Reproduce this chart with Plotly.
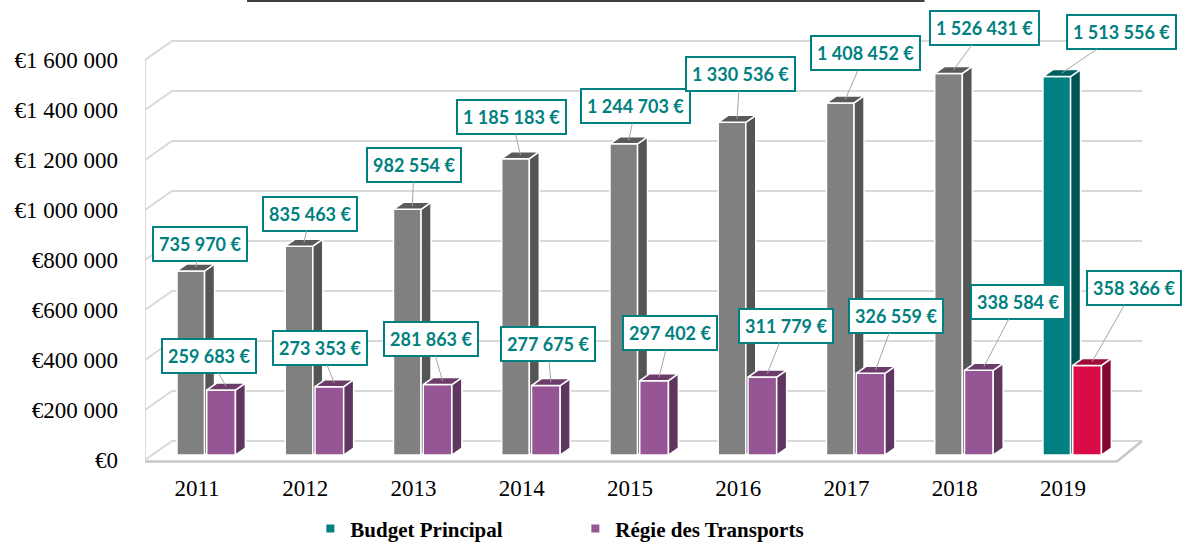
import plotly.graph_objects as go

# ---------------- data ----------------
years = ["2011", "2012", "2013", "2014", "2015", "2016", "2017", "2018", "2019"]
budget_principal = [735970, 835463, 982554, 1185183, 1244703, 1330536, 1408452, 1526431, 1513556]
regie_transports = [259683, 273353, 281863, 277675, 297402, 311779, 326559, 338584, 358366]
y_tick_values = [0, 200000, 400000, 600000, 800000, 1000000, 1200000, 1400000, 1600000]
y_tick_labels = ["€0", "€200 000", "€400 000", "€600 000", "€800 000",
                 "€1 000 000", "€1 200 000", "€1 400 000", "€1 600 000"]

# label box offsets (pixels, relative to the top of each bar)
budget_label_offsets = [(4, -24), (6, -29), (2, -41), (-9, -38), (7, -34), (3, -45), (20, -46), (31, -42), (60, -41)]
regie_label_offsets = [(-17, -31), (-14, -35), (-12, -42), (-3, -38), (11, -44), (19, -48), (20, -54), (34, -65), (42, -74)]

# ---------------- style / geometry constants ----------------
BASE = 20000          # bars start slightly inside the floor
DEPTH_X = 0.092       # fake 3-D depth (x units)
DEPTH_Y = 28000       # fake 3-D depth (y units)
BUDGET_SPAN = (-0.185, 0.07)
REGIE_SPAN = (0.09, 0.355)
WALL_SHIFT_Y = 76000
X_FRONT_LEFT, X_BACK_LEFT = -0.4804, -0.231
X_FRONT_RIGHT, X_BACK_RIGHT = 8.499, 8.73
FLOOR_Y = -6000
GRID = "#D9D9D9"
TEAL = "#008080"
SERIF = "Liberation Serif, Times New Roman, serif"

fig = go.Figure()

# ---------------- walls / grid ----------------
gx, gy = [], []
for v in y_tick_values:
    gx += [X_FRONT_LEFT, X_BACK_LEFT, X_BACK_RIGHT, None]
    gy += [v, v + WALL_SHIFT_Y, v + WALL_SHIFT_Y, None]
gx += [X_FRONT_LEFT, X_FRONT_LEFT, None]
gy += [y_tick_values[0], y_tick_values[-1], None]
fig.add_trace(go.Scatter(x=gx, y=gy, mode="lines", line=dict(color=GRID, width=2),
                         hoverinfo="skip", showlegend=False))
fig.add_trace(go.Scatter(x=[X_FRONT_LEFT, X_FRONT_RIGHT, X_BACK_RIGHT],
                         y=[FLOOR_Y, FLOOR_Y, WALL_SHIFT_Y], mode="lines",
                         line=dict(color="#C8C8C8", width=2.5), hoverinfo="skip", showlegend=False))


def faces(indices, values, span):
    fx, fy, sx, sy, tx, ty = [], [], [], [], [], []
    for i in indices:
        v = values[i]
        x0, x1 = i + span[0], i + span[1]
        top = BASE + v
        fx += [x0, x1, x1, x0, x0, None]
        fy += [BASE, BASE, top, top, BASE, None]
        sx += [x1, x1 + DEPTH_X, x1 + DEPTH_X, x1, x1, None]
        sy += [BASE, BASE + DEPTH_Y, top + DEPTH_Y, top, BASE, None]
        tx += [x0, x1, x1 + DEPTH_X, x0 + DEPTH_X, x0, None]
        ty += [top, top, top + DEPTH_Y, top + DEPTH_Y, top, None]
    return (fx, fy), (sx, sy), (tx, ty)


def add_bars(indices, values, span, front, side, topc):
    f, s, t = faces(indices, values, span)
    for (xs, ys), col in ((f, front), (s, side), (t, topc)):
        fig.add_trace(go.Scatter(x=xs, y=ys, fill="toself", fillcolor=col, mode="lines",
                                 line=dict(color="white", width=1.5),
                                 hoverinfo="skip", showlegend=False))


n = len(years)
add_bars(range(n - 1), budget_principal, BUDGET_SPAN, "#808080", "#555555", "#5A5A5A")
add_bars([n - 1], budget_principal, BUDGET_SPAN, TEAL, "#005353", "#006060")
add_bars(range(n - 1), regie_transports, REGIE_SPAN, "#965696", "#5F365F", "#6C3D6B")
add_bars([n - 1], regie_transports, REGIE_SPAN, "#DA0C47", "#870530", "#A00A3A")

# legend entries
fig.add_trace(go.Scatter(x=[None], y=[None], mode="markers", name="Budget Principal",
                         marker=dict(symbol="square", size=8, color=TEAL)))
fig.add_trace(go.Scatter(x=[None], y=[None], mode="markers", name="Régie des Transports",
                         marker=dict(symbol="square", size=8, color="#965696")))


# ---------------- data labels ----------------
def fmt(v):
    return f"{v:,}".replace(",", " ") + " €"


annotations = []
for values, span, offs in ((budget_principal, BUDGET_SPAN, budget_label_offsets),
                           (regie_transports, REGIE_SPAN, regie_label_offsets)):
    for i, v in enumerate(values):
        annotations.append(dict(
            x=i + (span[0] + span[1]) / 2 + DEPTH_X / 2, y=BASE + v + DEPTH_Y / 2,
            xref="x", yref="y", text=fmt(v), showarrow=True, arrowhead=0,
            arrowwidth=1, arrowcolor="#A6A6A6", ax=offs[i][0], ay=offs[i][1],
            font=dict(family="Lato", size=18, color=TEAL, weight="bold"),
            bgcolor="white", bordercolor=TEAL, borderwidth=2, borderpad=5,
        ))

fig.update_layout(
    width=1184, height=544,
    margin=dict(l=145, r=24, t=10, b=74, autoexpand=False),
    paper_bgcolor="white", plot_bgcolor="white",
    annotations=annotations,
    showlegend=True,
    legend=dict(orientation="h", x=0.424, xanchor="center", y=-0.128, yanchor="middle",
                font=dict(family=SERIF, size=21, color="black", weight="bold"),
                entrywidth=220, itemclick=False),
    xaxis=dict(range=[-0.4804, 8.896], tickvals=list(range(n)), ticktext=years,
               showgrid=False, zeroline=False, showline=False, ticks="",
               ticklabelstandoff=2,
               tickfont=dict(family=SERIF, size=23, color="black"),
               fixedrange=True),
    yaxis=dict(range=[-40000, 1800000], tickvals=y_tick_values, ticktext=y_tick_labels,
               showgrid=False, zeroline=False, showline=False, ticks="",
               ticklabelstandoff=26,
               tickfont=dict(family=SERIF, size=23, color="black"),
               fixedrange=True),
    shapes=[dict(type="line", xref="paper", yref="paper", x0=0.1005, x1=0.768,
                 y0=1.0196, y1=1.0196, line=dict(color="black", width=1.5))],
)

fig.write_html("out.html", config={"displayModeBar": False},
               post_script="document.body.style.margin='0';document.body.style.overflow='hidden';")
